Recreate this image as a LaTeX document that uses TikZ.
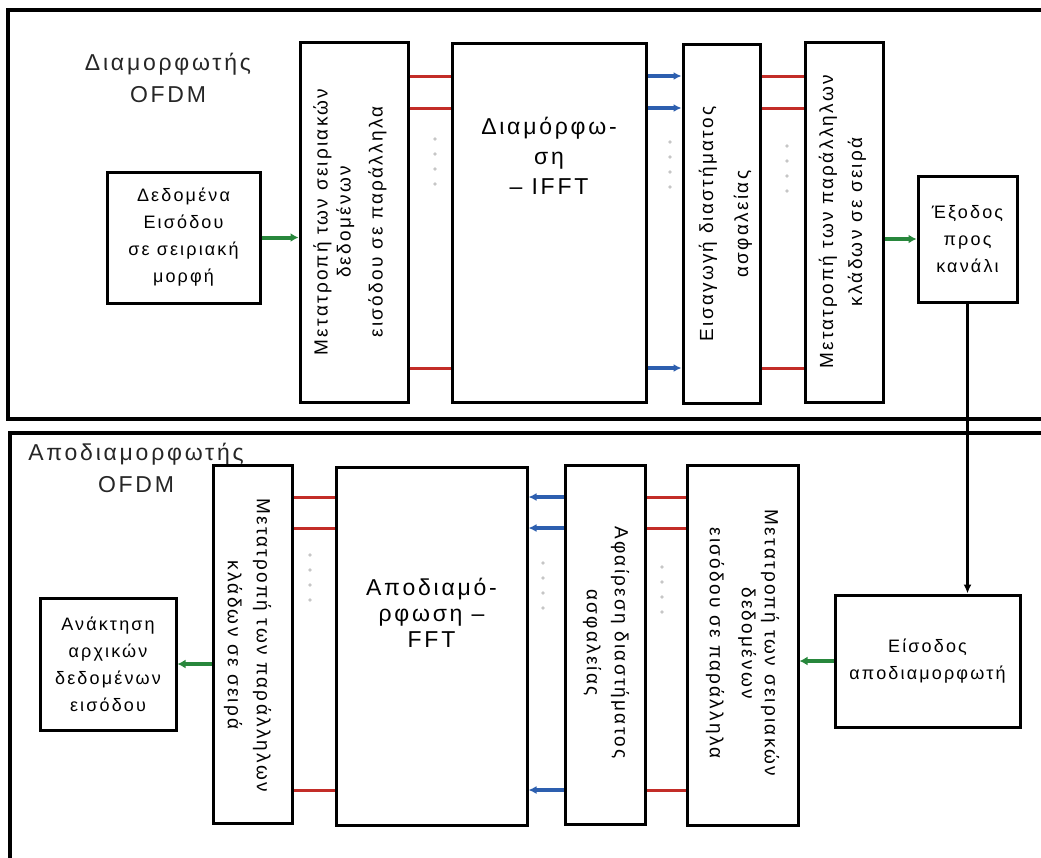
\documentclass[tikz,border=0pt]{standalone}
\usepackage{fontspec}
\setmainfont{Liberation Sans}[LetterSpace=12]
\definecolor{ofdmred}{RGB}{195,45,40}
\definecolor{ofdmblue}{RGB}{45,95,175}
\definecolor{ofdmgreen}{RGB}{40,135,60}
\usetikzlibrary{arrows.meta,positioning,calc}

\begin{document}
\begin{tikzpicture}[x=1pt,y=-1pt,
  box/.style={draw,line width=3pt,inner sep=0pt},
  txt/.style={font=\fontsize{18}{27}\selectfont,align=center},
  vtxt/.style={font=\fontsize{19}{23}\selectfont,align=center,inner sep=0pt},
  bigtxt/.style={font=\fontsize{23}{30}\selectfont,align=center,inner sep=0pt},
  lbl/.style={font=\fontsize{23}{32}\selectfont,align=center,black!85},
  redline/.style={ofdmred,line width=3pt},
  bluearrow/.style={ofdmblue,line width=3.5pt,-{Latex[length=8pt,width=8pt]}},
  greenarrow/.style={ofdmgreen,line width=4pt,-{Latex[length=8pt,width=9pt]}}]
  \useasboundingbox (0,0) rectangle (1041,857);
  \clip (0,0) rectangle (1041,857);
  \draw[line width=3.5pt] (8,10) rectangle (1060,419);
  \draw[line width=3.5pt] (10,433) rectangle (1060,880);

  \node[lbl] (modlbl) at (168,78) {Διαμορφωτής\\OFDM};
  \node[box,txt,minimum width=153pt,minimum height=131pt] (in) at (183.5,237.5) {Δεδομένα\\Εισόδου\\σε σειριακή\\μορφή};
  \node[box,minimum width=108pt,minimum height=360pt] (sp1) at (354,222) {};
  \node[box,minimum width=194pt,minimum height=359pt] (ifft) at (549,222.5) {};
  \node[box,minimum width=77pt,minimum height=359pt] (gi) at (721.5,224) {};
  \node[box,minimum width=78pt,minimum height=360pt] (ps1) at (844,222) {};
  \node[box,txt,minimum width=99pt,minimum height=126pt] (out) at (967.5,239) {Έξοδος\\προς\\κανάλι};
  \node[vtxt,rotate=90] (sp1t) at ($(sp1)+(-4,0)$) {Μετατροπή των σειριακών\\δεδομένων\\[9pt]εισόδου σε παράλληλα};
  \node[bigtxt,anchor=north] (ifftt) at ($(ifft.north)+(0,75)$) {Διαμόρφω-\\ση\\– IFFT};
  \node[vtxt,rotate=90] (git) at ($(gi)+(4,0)$) {Εισαγωγή διαστήματος\\[12pt]ασφαλείας};
  \node[vtxt,rotate=90] (ps1t) at ($(ps1)+(-1.5,0)$) {Μετατροπή των παράλληλων\\[6pt]κλάδων σε σειρά};

  \node[lbl] (demlbl) at (136,468) {Αποδιαμορφωτής\\OFDM};
  \node[box,txt,minimum width=136pt,minimum height=132pt] (rec) at (108,664) {Ανάκτηση\\αρχικών\\δεδομένων\\εισόδου};
  \node[box,minimum width=79pt,minimum height=358pt] (ps2) at (252.5,644) {};
  \node[box,minimum width=191pt,minimum height=358pt] (fft) at (431.5,646) {};
  \node[box,minimum width=80pt,minimum height=359pt] (gr) at (605,644.5) {};
  \node[box,minimum width=111pt,minimum height=360pt] (sp2) at (742.5,645) {};
  \node[box,txt,minimum width=185pt,minimum height=132pt] (din) at (927.5,661) {Είσοδος\\αποδιαμορφωτή};
  \node[vtxt,rotate=-90] (ps2t) at ($(ps2)+(-5,1)$) {Μετατροπή των παράλληλων\\[6pt]κλάδων σε σειρά};
  \node[bigtxt,anchor=north,font=\fontsize{23}{26}\selectfont] (fftt) at ($(fft.north)+(0,112)$) {Αποδιαμό-\\ρφωση –\\FFT};
  \node[vtxt,rotate=-90] (grt) at ($(gr)+(1,-2)$) {Αφαίρεση διαστήματος\\[5pt]ασφαλείας};
  \node[vtxt,rotate=-90] (sp2t) at ($(sp2)+(0,-2)$) {Μετατροπή των σειριακών\\δεδομένων\\[9pt]εισόδου σε παράλληλα};

  \draw[greenarrow] (in.east) -- (in.east -| sp1.west);
  \foreach \y in {76,108,368} {
    \draw[redline] (sp1.east |- 0,\y) -- (ifft.west |- 0,\y);
    \draw[bluearrow] (ifft.east |- 0,\y) -- (gi.west |- 0,\y);
    \draw[redline] (gi.east |- 0,\y) -- (ps1.west |- 0,\y);
  }
  \draw[greenarrow] (ps1.east |- out.west) -- (out.west);
  \draw[line width=3pt,-{Latex[length=9pt,width=8pt]}] (out.south) -- (out.south |- din.north);
  \draw[greenarrow] (din.west) -- (din.west -| sp2.east);
  \foreach \y in {497,528,790} {
    \draw[redline] (gr.east |- 0,\y) -- (sp2.west |- 0,\y);
    \draw[bluearrow] (gr.west |- 0,\y) -- (fft.east |- 0,\y);
    \draw[redline] (ps2.east |- 0,\y) -- (fft.west |- 0,\y);
  }
  \draw[greenarrow] (ps2.west |- rec.east) -- (rec.east);

  \foreach \x/\y in {435/139,670/142,787/146,310/555,543/563,662/567}
    \foreach \k in {0,...,3}
      \fill[gray!45] (\x,\y+\k*15) circle (1.8pt);
\end{tikzpicture}
\end{document}
